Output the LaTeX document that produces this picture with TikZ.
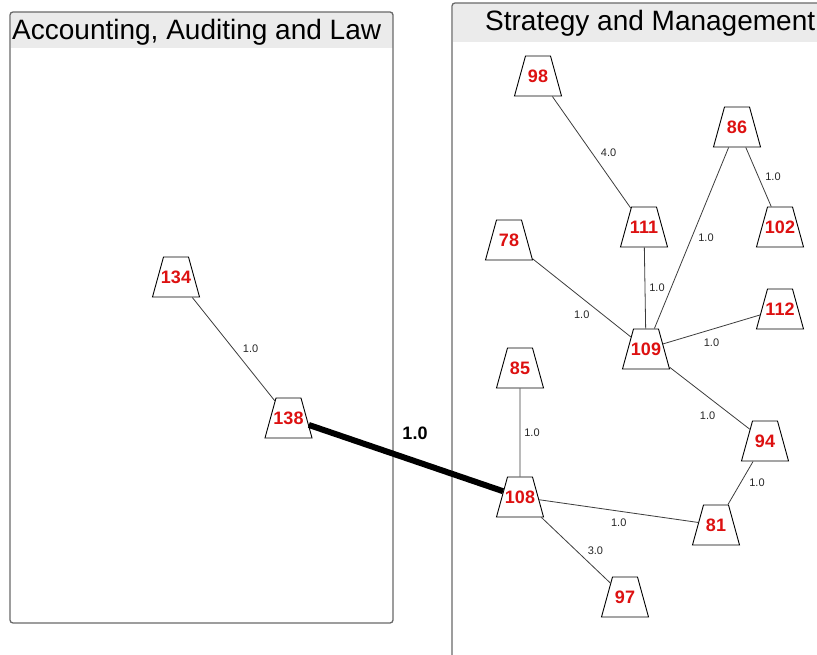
\documentclass[tikz,border=0pt]{standalone}
\usepackage{fontspec}
\setmainfont{Liberation Sans}
\usetikzlibrary{shapes.geometric}

\definecolor{labelred}{RGB}{221,17,17}
\definecolor{linkgray}{RGB}{60,60,60}
\definecolor{framegray}{RGB}{105,105,105}
\definecolor{headgray}{RGB}{235,235,235}

% label of a topic node: a 25pt x 40pt box gives the top side and the height
\newcommand{\topiclbl}[1]{\parbox[c][40pt][c]{25pt}{\centering\makebox[0pt]{#1}}}

\begin{document}
\begin{tikzpicture}[x=1pt, y=-1pt,
    topic/.style={trapezium, trapezium angle=74.6,
      draw=black, line width=0.9pt, fill=white, inner sep=0pt,
      minimum width=0pt, minimum height=0pt, text=labelred,
      font=\fontsize{18}{20}\selectfont\bfseries},
    link/.style={draw=linkgray, line width=0.8pt},
    strong/.style={draw=black, line width=6pt},
    wlab/.style={font=\fontsize{11}{12}\selectfont, text=black!85, inner sep=0pt},
    grptitle/.style={font=\fontsize{28}{30}\selectfont, inner sep=0pt},
    frame/.style={draw=framegray, line width=1.3pt, rounded corners=3pt}]
  \useasboundingbox (0,0) rectangle (817,655);
  \clip (0,0) rectangle (817,655);

  % Accounting group
  \fill[headgray] (10.5,12.5) rectangle (392.5,48);
  \draw[frame] (10,12) rectangle (393,623);
  \node[grptitle, anchor=base west] (accTitle) at (12,40) {Accounting, Auditing and Law};

  % Strategy group
  \fill[headgray] (452.5,3.5) rectangle (845,42);
  \draw[frame] (452,3) rectangle (845,690);
  \node[grptitle, anchor=base west] (stratTitle) at (485,31) {Strategy and Management};

  % topics, left group
  \node[topic] (n134) at (176,277) {\topiclbl{134}};
  \node[topic] (n138) at (288.5,418) {\topiclbl{138}};

  % topics, right group
  \node[topic] (n98) at (538,76) {\topiclbl{98}};
  \node[topic] (n86) at (737,127) {\topiclbl{86}};
  \node[topic] (n78) at (509,240) {\topiclbl{78}};
  \node[topic] (n111) at (644,227) {\topiclbl{111}};
  \node[topic] (n102) at (780,227) {\topiclbl{102}};
  \node[topic] (n112) at (780,309) {\topiclbl{112}};
  \node[topic] (n109) at (646,349) {\topiclbl{109}};
  \node[topic] (n85) at (520,368) {\topiclbl{85}};
  \node[topic] (n94) at (765,441) {\topiclbl{94}};
  \node[topic] (n108) at (520,497) {\topiclbl{108}};
  \node[topic] (n81) at (716,525) {\topiclbl{81}};
  \node[topic] (n97) at (625,597) {\topiclbl{97}};

  % links
  \draw[link] (n134) -- node[wlab, xshift=17pt] {1.0} (n138);
  \draw[link] (n98) -- node[wlab, xshift=17pt] {4.0} (n111);
  \draw[link] (n86) -- node[wlab, xshift=14.5pt] {1.0} (n102);
  \draw[link] (n78) -- node[wlab, yshift=-16.5pt] {1.0} (n109);
  \draw[link] (n111) -- node[wlab, xshift=12pt] {1.0} (n109);
  \draw[link] (n86) -- node[wlab, xshift=14.5pt] {1.0} (n109);
  \draw[link] (n112) -- node[wlab, yshift=-13pt] {1.0} (n109);
  \draw[link] (n109) -- node[wlab, xshift=-2pt, yshift=-18pt] {1.0} (n94);
  \draw[link] (n94) -- node[wlab, xshift=16.5pt] {1.0} (n81);
  \draw[link] (n85) -- node[wlab, xshift=12pt] {1.0} (n108);
  \draw[link] (n108) -- node[wlab, yshift=-12pt] {1.0} (n81);
  \draw[link] (n108) -- node[wlab, xshift=19.5pt] {3.0} (n97);

  % link across the groups
  \draw[strong] (n138) -- node[font=\fontsize{18}{20}\selectfont\bfseries, inner sep=0pt, xshift=9pt, yshift=25pt] (crossLbl) {1.0} (n108);
\end{tikzpicture}
\end{document}
